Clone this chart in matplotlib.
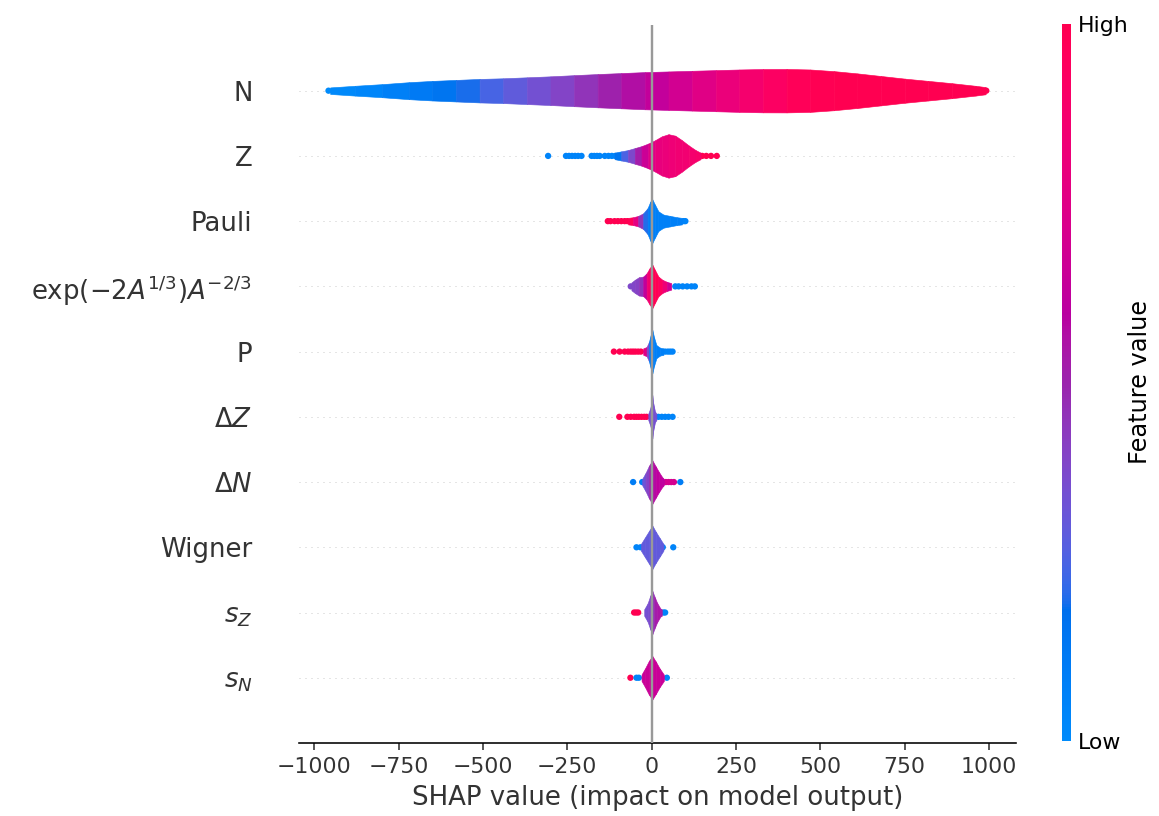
import numpy as np
import matplotlib
matplotlib.use('Agg')
import matplotlib.pyplot as plt
from matplotlib.colors import LinearSegmentedColormap
from matplotlib.cm import ScalarMappable
from matplotlib.colors import Normalize

# feature rows, top to bottom
keys = ['N', 'Z', 'Pauli', 'exp', 'P', 'dZ', 'dN', 'Wigner', 'sZ', 'sN']
labels = ['N', 'Z', 'Pauli', r'$\exp(-2A^{1/3})A^{-2/3}$', 'P',
          r'$\Delta Z$', r'$\Delta N$', 'Wigner', r'$s_Z$', r'$s_N$']

# violin outline knots: SHAP value, half width (rows), feature value (0 low .. 1 high)
violin_x = {
    'N': [-953, -880, -800, -720, -650, -580, -510, -440, -370, -300, -230, -160, -90, -20,
          50, 120, 190, 260, 330, 400, 470, 540, 610, 680, 750, 820, 890, 960, 990],
    'Z': [-110, -90, -70, -50, -30, -10, 10, 30, 50, 70, 90, 110, 130, 145],
    'Pauli': [-70, -55, -40, -25, -12, -4, 2, 10, 20, 35, 55, 75, 90],
    'exp': [-60, -50, -38, -25, -15, -6, 2, 10, 20, 32, 45, 58],
    'P': [-25, -15, -8, -3, 2, 7, 14, 25, 35],
    'dZ': [-10, -5, 0, 2, 5, 10, 14],
    'dN': [-28, -18, -8, 2, 12, 22, 32, 36],
    'Wigner': [-32, -20, -8, 2, 12, 24, 35],
    'sZ': [-22, -12, -4, 2, 8, 16, 26, 30],
    'sN': [-30, -20, -8, 2, 12, 24, 36],
}
violin_w = {
    'N': [0.05, 0.075, 0.10, 0.13, 0.15, 0.165, 0.18, 0.19, 0.205, 0.22, 0.238, 0.255, 0.27, 0.285,
          0.295, 0.305, 0.315, 0.325, 0.332, 0.333, 0.325, 0.30, 0.265, 0.225, 0.185, 0.15, 0.115, 0.075, 0.055],
    'Z': [0.05, 0.07, 0.09, 0.12, 0.15, 0.19, 0.24, 0.30, 0.333, 0.31, 0.24, 0.16, 0.09, 0.05],
    'Pauli': [0.05, 0.06, 0.08, 0.12, 0.20, 0.30, 0.333, 0.25, 0.15, 0.10, 0.08, 0.06, 0.05],
    'exp': [0.06, 0.10, 0.14, 0.15, 0.20, 0.28, 0.333, 0.25, 0.15, 0.10, 0.07, 0.05],
    'P': [0.05, 0.07, 0.15, 0.25, 0.333, 0.22, 0.10, 0.06, 0.05],
    'dZ': [0.05, 0.12, 0.22, 0.333, 0.20, 0.08, 0.05],
    'dN': [0.05, 0.14, 0.25, 0.333, 0.24, 0.15, 0.07, 0.05],
    'Wigner': [0.05, 0.15, 0.25, 0.333, 0.24, 0.14, 0.05],
    'sZ': [0.05, 0.14, 0.26, 0.333, 0.25, 0.15, 0.06, 0.05],
    'sN': [0.05, 0.14, 0.26, 0.333, 0.25, 0.14, 0.05],
}
violin_c = {
    'N': [0.0, 0.02, 0.05, 0.10, 0.13, 0.17, 0.22, 0.27, 0.32, 0.37, 0.42, 0.48, 0.54, 0.60,
          0.66, 0.72, 0.78, 0.84, 0.90, 0.95, 0.98, 1.0, 1.0, 1.0, 1.0, 1.0, 1.0, 1.0, 1.0],
    'Z': [0.10, 0.20, 0.30, 0.45, 0.60, 0.72, 0.78, 0.80, 0.82, 0.84, 0.85, 0.86, 0.88, 0.90],
    'Pauli': [1.0, 0.95, 0.60, 0.30, 0.10, 0.08, 0.08, 0.08, 0.08, 0.08, 0.08, 0.08, 0.08],
    'exp': [0.38, 0.40, 0.42, 0.50, 0.75, 0.95, 1.0, 1.0, 0.97, 0.90, 0.75, 0.60],
    'P': [0.90, 0.60, 0.15, 0.08, 0.08, 0.08, 0.08, 0.08, 0.08],
    'dZ': [0.35, 0.35, 0.35, 0.35, 0.35, 0.35, 0.35],
    'dN': [0.30, 0.35, 0.45, 0.55, 0.60, 0.62, 0.62, 0.60],
    'Wigner': [0.30, 0.30, 0.30, 0.30, 0.30, 0.30, 0.30],
    'sZ': [0.35, 0.35, 0.38, 0.42, 0.50, 0.55, 0.55, 0.50],
    'sN': [0.65, 0.65, 0.65, 0.65, 0.65, 0.65, 0.65],
}

# individual points outside the violins
dot_x = {
    'N': [-958, 992],
    'Z': [-307, -254, -245, -236, -227, -218, -208, -178, -170, -162, -154, -139, -128, -118, -108,
          150, 162, 176, 193],
    'Pauli': [-130, -122, -110, -100, -90, -80, -72, 95, 100],
    'exp': [-62, 70, 80, 92, 105, 118, 128],
    'P': [-112, -95, -80, -70, -62, -55, -48, -40, -32, 40, 48, 55, 62],
    'dZ': [-96, -72, -62, -52, -45, -38, -30, -22, -15, 20, 30, 40, 50, 62],
    'dN': [-55, -28, 42, 50, 58, 66, 85],
    'Wigner': [-45, -33, 33, 64],
    'sZ': [-52, -46, -40, 35, 40],
    'sN': [-63, -45, -38, 45],
}
dot_c = {
    'N': [0.0, 1.0],
    'Z': [0.05] * 15 + [1.0] * 4,
    'Pauli': [1.0] * 7 + [0.05] * 2,
    'exp': [0.38] + [0.05] * 6,
    'P': [1.0] * 9 + [0.05] * 4,
    'dZ': [1.0] * 9 + [0.05] * 5,
    'dN': [0.1, 0.1, 0.7, 0.7, 0.7, 0.7, 0.1],
    'Wigner': [0.05] * 4,
    'sZ': [1.0, 1.0, 1.0, 0.05, 0.05],
    'sN': [1.0, 0.05, 0.05, 0.05],
}


def lch_to_rgb(l, c, h):
    # CIE LCh -> Lab -> XYZ (D65) -> sRGB
    a, b = c * np.cos(h), c * np.sin(h)
    fy = (l + 16) / 116
    f = np.array([fy + a / 500, fy, fy - b / 200])
    t = np.where(f > 6 / 29, f ** 3, 3 * (6 / 29) ** 2 * (f - 4 / 29))
    xyz = t * np.array([0.95047, 1.0, 1.08883])
    m = np.array([[3.24048134, -1.53715152, -0.49853633],
                  [-0.96925495, 1.87599, 0.04155593],
                  [0.05564664, -0.20404134, 1.05731107]])
    rgb = m @ xyz
    rgb = np.where(rgb > 0.0031308, 1.055 * np.abs(rgb) ** (1 / 2.4) - 0.055, 12.92 * rgb)
    return np.clip(rgb, 0, 1)


def red_blue():
    blue_lch = [54., 70., 4.6588]
    red_lch = [54., 90., 0.35470565 + 2 * np.pi]
    n = 100
    ls = list(np.linspace(blue_lch[0], 40., n // 2)) + list(np.linspace(40., red_lch[0], n // 2))
    cs = np.linspace(blue_lch[1], red_lch[1], n)
    hs = np.linspace(blue_lch[2], red_lch[2], n)
    cols = [lch_to_rgb(l, c, h) for l, c, h in zip(ls, cs, hs)]
    return LinearSegmentedColormap.from_list('red_blue', cols)


cmap = red_blue()

fig = plt.figure(figsize=(1159 / 144, 816 / 144), dpi=144)
ax = fig.add_axes([0.2584, 0.0895, 0.6182, 0.8793])

n = len(keys)
for row, key in enumerate(keys):
    pos = n - 1 - row
    ax.axhline(y=pos, color='#cccccc', lw=0.5, dashes=(1, 5), zorder=-1)

    ax.scatter(dot_x[key], np.full(len(dot_x[key]), pos), c=dot_c[key], cmap=cmap,
               vmin=0, vmax=1, s=10, linewidth=0, zorder=1)

    xs, ws, cs = violin_x[key], violin_w[key], violin_c[key]
    for i in range(len(xs) - 1):
        col = cmap((cs[i] + cs[i + 1]) / 2)
        ax.fill_between([xs[i], xs[i + 1]], [pos + ws[i], pos + ws[i + 1]],
                        [pos - ws[i], pos - ws[i + 1]], color=col, lw=0.3, edgecolor=col, zorder=2)

ax.axvline(x=0, color='#999999', lw=1.2, zorder=3)

ax.set_xlim(-1044, 1080)
ax.set_ylim(-1, n)
ax.set_yticks(range(n))
ax.set_yticklabels(labels[::-1], fontsize=13)
ax.yaxis.set_ticks_position('none')
ax.xaxis.set_ticks_position('bottom')
for side in ['left', 'right', 'top']:
    ax.spines[side].set_visible(False)
ax.tick_params(color='#333333', labelcolor='#333333')
ax.tick_params('y', length=0, pad=23.5)
ax.tick_params('x', labelsize=11)
ax.set_xlabel('SHAP value (impact on model output)', fontsize=13, color='#333333')

cax = fig.add_axes([0.9159, 0.0919, 0.0078, 0.8787])
sm = ScalarMappable(norm=Normalize(0, 1), cmap=cmap)
cb = fig.colorbar(sm, cax=cax, ticks=[0, 1])
cb.set_ticklabels(['Low', 'High'])
cb.ax.tick_params(labelsize=11, length=0)
cb.set_label('Feature value', size=12, labelpad=0)
cb.outline.set_visible(False)

fig.savefig('out.png', dpi=144)
